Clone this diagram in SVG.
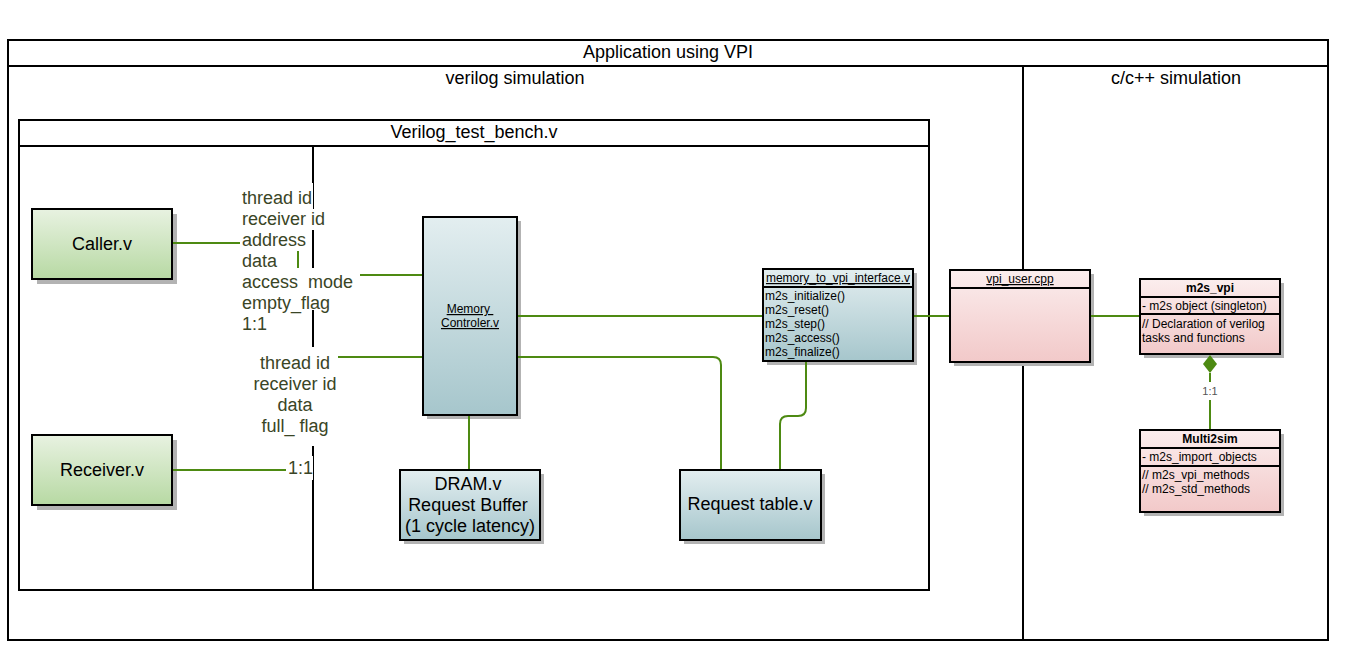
<svg xmlns="http://www.w3.org/2000/svg" width="1350" height="660" viewBox="0 0 1350 660">
<defs>
<linearGradient id="gBlue" x1="0" y1="0" x2="0" y2="1"><stop offset="0" stop-color="#e3eef0"/><stop offset="1" stop-color="#a6c6cc"/></linearGradient>
<linearGradient id="gGreen" x1="0" y1="0" x2="0" y2="1"><stop offset="0" stop-color="#e8f2e1"/><stop offset="1" stop-color="#b7d9a3"/></linearGradient>
<linearGradient id="gPink" x1="0" y1="0" x2="0" y2="1"><stop offset="0" stop-color="#fbeded"/><stop offset="1" stop-color="#f2c9c9"/></linearGradient>
</defs>
<style>
text{font-family:"Liberation Sans",Arial,sans-serif;fill:#000}
.frame{fill:none;stroke:#000;stroke-width:2}
.box{stroke:#000;stroke-width:2}
.sh{fill:#b3b3b3}
.t18{font-size:18px}
.t12{font-size:12px}
.lbl{font-size:18px;fill:#3a4526}
.conn{fill:none;stroke:#4d8a12;stroke-width:2}
.u{text-decoration:underline}
.b{font-weight:bold}
.mid{text-anchor:middle}
</style>

<g id="containers">
<rect class="frame" x="8" y="40" width="1320" height="600"/>
<line class="frame" x1="8" y1="66" x2="1328" y2="66"/>
<text class="t18 mid" x="668" y="58">Application using VPI</text>
<line class="frame" x1="1023" y1="66" x2="1023" y2="640"/>
<text class="t18 mid" x="515" y="84">verilog simulation</text>
<text class="t18 mid" x="1176" y="84">c/c++ simulation</text>
<rect class="frame" x="19" y="120" width="910" height="470"/>
<line class="frame" x1="19" y1="146" x2="929" y2="146"/>
<text class="t18 mid" x="474" y="138">Verilog_test_bench.v</text>
<line x1="313" y1="146" x2="313" y2="590" stroke="#000" stroke-width="2"/>
</g>

<g id="caller">
<rect class="sh" x="37" y="214" width="140" height="70"/>
<rect class="box" x="32" y="209" width="140" height="70" fill="url(#gGreen)"/>
<text class="t18 mid" x="102" y="250">Caller.v</text>
</g>

<g id="receiver">
<rect class="sh" x="37" y="440" width="140" height="70"/>
<rect class="box" x="32" y="435" width="140" height="70" fill="url(#gGreen)"/>
<text class="t18 mid" x="102" y="476">Receiver.v</text>
</g>

<g id="memory-controller">
<rect class="sh" x="427" y="221" width="94" height="198"/>
<rect class="box" x="423" y="217" width="94" height="198" fill="url(#gBlue)"/>
<text class="t12 mid u" x="470" y="313" xml:space="preserve">Memory </text>
<text class="t12 mid u" x="470" y="327">Controler.v</text>
</g>

<g id="dram">
<rect class="sh" x="404" y="474" width="140" height="70"/>
<rect class="box" x="400" y="470" width="140" height="70" fill="url(#gBlue)"/>
<text class="t18 mid" x="468" y="490">DRAM.v</text>
<text class="t18 mid" x="468" y="511">Request Buffer</text>
<text class="t18 mid" x="470" y="532">(1 cycle latency)</text>
</g>

<g id="request-table">
<rect class="sh" x="684" y="474" width="141" height="70"/>
<rect class="box" x="680" y="470" width="141" height="70" fill="url(#gBlue)"/>
<text class="t18 mid" x="750" y="510">Request table.v</text>
</g>

<g id="memory-to-vpi">
<rect class="sh" x="767" y="273" width="150" height="92"/>
<rect class="box" x="763" y="269" width="150" height="92" fill="url(#gBlue)"/>
<line x1="763" y1="287" x2="913" y2="287" stroke="#000" stroke-width="2"/>
<text class="t12 mid u" x="838" y="282">memory_to_vpi_interface.v</text>
<text class="t12" x="765" y="300">m2s_initialize()</text>
<text class="t12" x="765" y="314">m2s_reset()</text>
<text class="t12" x="765" y="328">m2s_step()</text>
<text class="t12" x="765" y="342">m2s_access()</text>
<text class="t12" x="765" y="356">m2s_finalize()</text>
</g>

<g id="vpi-user">
<rect class="sh" x="954" y="274" width="140" height="92"/>
<rect class="box" x="950" y="270" width="140" height="92" fill="url(#gPink)"/>
<line x1="950" y1="288" x2="1090" y2="288" stroke="#000" stroke-width="2"/>
<text class="t12 mid u" x="1020" y="283">vpi_user.cpp</text>
</g>

<g id="m2s-vpi">
<rect class="sh" x="1144" y="283" width="140" height="75"/>
<rect class="box" x="1140" y="279" width="140" height="75" fill="url(#gPink)"/>
<line x1="1140" y1="297" x2="1280" y2="297" stroke="#000" stroke-width="2"/>
<line x1="1140" y1="314" x2="1280" y2="314" stroke="#000" stroke-width="2"/>
<text class="t12 mid b" x="1210" y="292">m2s_vpi</text>
<text class="t12" x="1142" y="310">- m2s object (singleton)</text>
<text class="t12" x="1142" y="328">// Declaration of verilog</text>
<text class="t12" x="1142" y="342">tasks and functions</text>
</g>

<g id="multi2sim">
<rect class="sh" x="1144" y="434" width="140" height="82"/>
<rect class="box" x="1140" y="430" width="140" height="82" fill="url(#gPink)"/>
<line x1="1140" y1="448" x2="1280" y2="448" stroke="#000" stroke-width="2"/>
<line x1="1140" y1="466" x2="1280" y2="466" stroke="#000" stroke-width="2"/>
<text class="t12 mid b" x="1210" y="443">Multi2sim</text>
<text class="t12" x="1142" y="461">- m2s_import_objects</text>
<text class="t12" x="1142" y="479">// m2s_vpi_methods</text>
<text class="t12" x="1142" y="493">// m2s_std_methods</text>
</g>

<g id="connectors">
<path class="conn" d="M173 243H240"/>
<path class="conn" d="M298 250V268"/>
<path class="conn" d="M360 275H422"/>
<path class="conn" d="M173 470H288"/>
<path class="conn" d="M337 357H422"/>
<path class="conn" d="M518 316H762"/>
<path class="conn" d="M518 357H713Q721 357 721 365V469"/>
<path class="conn" d="M469 416V469"/>
<path class="conn" d="M806 362V408Q806 416 798 416H788Q780 416 780 424V469"/>
<path class="conn" d="M914 316H949"/>
<path class="conn" d="M1091 316H1139"/>
<path class="conn" d="M1210 373V382"/>
<path class="conn" d="M1210 400V429"/>
<polygon points="1210,355 1217,364 1210,373 1203,364" fill="#4d8a12"/>
<text x="1210" y="395" class="mid" style="font-size:11px;fill:#555">1:1</text>
</g>

<g id="label-caller">
<g fill="#fff">
<rect x="241" y="183" width="72" height="26"/>
<rect x="241" y="209" width="85" height="21"/>
<rect x="241" y="230" width="66" height="21"/>
<rect x="241" y="251" width="37" height="17"/>
<rect x="241" y="268" width="114" height="21"/>
<rect x="241" y="289" width="90" height="21"/>
<rect x="241" y="310" width="26" height="6"/>
</g>
<text class="lbl" x="242" y="204">thread id</text>
<text class="lbl" x="242" y="225">receiver id</text>
<text class="lbl" x="242" y="246">address</text>
<text class="lbl" x="242" y="267">data</text>
<text class="lbl" x="242" y="288" xml:space="preserve">access  mode</text>
<text class="lbl" x="242" y="309">empty_flag</text>
<text class="lbl" x="242" y="330">1:1</text>
</g>

<g id="label-receiver">
<rect x="252" y="347" width="86" height="99" fill="#fff"/>
<rect x="286" y="456" width="27" height="24" fill="#fff"/>
<text class="lbl mid" x="295" y="369">thread id</text>
<text class="lbl mid" x="295" y="390">receiver id</text>
<text class="lbl mid" x="295" y="411">data</text>
<text class="lbl mid" x="295" y="432">full_ flag</text>
<text class="lbl" x="288" y="474">1:1</text>
</g>
</svg>
